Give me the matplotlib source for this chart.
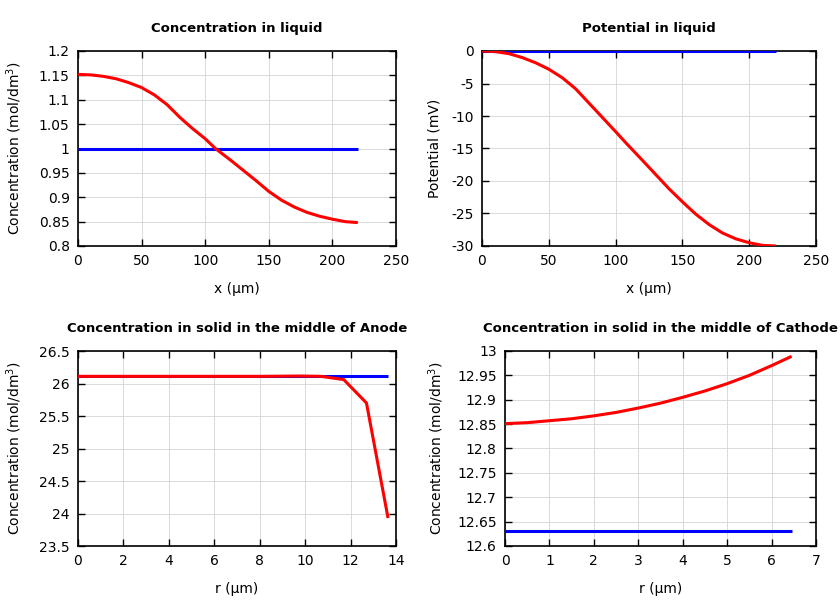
import matplotlib
matplotlib.use('Agg')
import matplotlib.pyplot as plt
from matplotlib.ticker import FuncFormatter, MultipleLocator

# liquid concentration along x
x_liq = [0, 10, 20, 30, 40, 50, 60, 70, 80, 90, 100, 108, 120, 130, 140, 150,
         160, 170, 180, 190, 200, 210, 220]
conc_liq = [1.152, 1.151, 1.148, 1.143, 1.135, 1.125, 1.110, 1.090, 1.064, 1.041,
            1.020, 1.000, 0.976, 0.955, 0.934, 0.912, 0.894, 0.880, 0.869, 0.861,
            0.855, 0.850, 0.848]
conc_liq_init = [1.0] * len(x_liq)

# liquid potential along x
pot_liq = [0.0, -0.1, -0.4, -1.0, -1.8, -2.8, -4.1, -5.8, -8.0, -10.2, -12.4,
           -14.2, -16.8, -19.0, -21.2, -23.2, -25.1, -26.7, -28.0, -28.9, -29.5,
           -29.9, -30.0]
pot_liq_init = [0.0] * len(x_liq)

# solid concentration, anode middle
r_an = [0, 2, 4, 6, 8, 9.8, 10.7, 11.7, 12.7, 13.65]
conc_an = [26.11, 26.11, 26.11, 26.11, 26.11, 26.115, 26.11, 26.06, 25.70, 23.93]
conc_an_init = [26.11] * len(r_an)

# solid concentration, cathode middle
r_ca = [0, 0.5, 1, 1.5, 2, 2.5, 3, 3.5, 4, 4.5, 5, 5.5, 6, 6.45]
conc_ca = [12.851, 12.853, 12.857, 12.861, 12.867, 12.874, 12.883, 12.893,
           12.905, 12.918, 12.933, 12.950, 12.970, 12.989]
conc_ca_init = [12.63] * len(r_ca)

fig = plt.figure(figsize=(8.4, 6), dpi=100)
W, H = 840, 600

def make_ax(left, right, top, bottom):
    return fig.add_axes([left / W, 1 - bottom / H, (right - left) / W, (bottom - top) / H])

fmt = FuncFormatter(lambda v, p: '%g' % round(v, 6))

panels = [
    (make_ax(78, 396, 51, 246), x_liq, conc_liq, conc_liq_init,
     'Concentration in liquid', 'x (µm)', 'Concentration (mol/dm$^3$)',
     (0, 250), 50, (0.8, 1.2), 0.05, 11),
    (make_ax(482, 816, 51, 246), x_liq, pot_liq, pot_liq_init,
     'Potential in liquid', 'x (µm)', 'Potential (mV)',
     (0, 250), 50, (-30, 0), 5, 7),
    (make_ax(78, 396, 351, 546), r_an, conc_an, conc_an_init,
     'Concentration in solid in the middle of Anode', 'r (µm)', 'Concentration (mol/dm$^3$)',
     (0, 14), 2, (23.5, 26.5), 0.5, 11),
    (make_ax(505, 816, 351, 546), r_ca, conc_ca, conc_ca_init,
     'Concentration in solid in the middle of Cathode', 'r (µm)', 'Concentration (mol/dm$^3$)',
     (0, 7), 1, (12.6, 13.0), 0.05, 8),
]

for ax, xs, ys, ys0, title, xlab, ylab, xlim, xstep, ylim, ystep, ypad in panels:
    ax.plot(xs, ys0, color='#0000ff', lw=2.2, solid_capstyle='butt', zorder=3)
    ax.plot(xs, ys, color='#ff0000', lw=2.2, solid_capstyle='butt', zorder=4)
    ax.set_xlim(*xlim)
    ax.set_ylim(*ylim)
    ax.xaxis.set_major_locator(MultipleLocator(xstep))
    ax.yaxis.set_major_locator(MultipleLocator(ystep))
    ax.xaxis.set_major_formatter(fmt)
    ax.yaxis.set_major_formatter(fmt)
    ax.grid(True, color='#d4d4d4', lw=0.6)
    ax.set_axisbelow(True)
    ax.tick_params(direction='in', length=5, width=1, top=True, right=True,
                   labelsize=10, pad=6)
    for s in ax.spines.values():
        s.set_linewidth(1.2)
    ax.set_title(title, fontsize=9.5, fontweight='bold', pad=14)
    ax.set_xlabel(xlab, fontsize=10, labelpad=10)
    ax.set_ylabel(ylab, fontsize=10, labelpad=ypad)

fig.savefig('out.png', dpi=100)
